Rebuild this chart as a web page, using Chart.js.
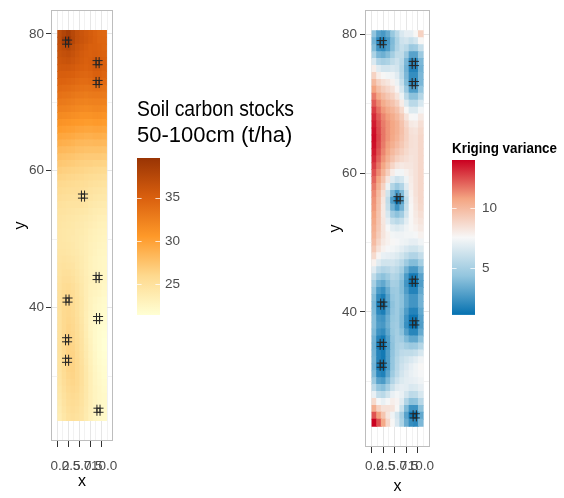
<!DOCTYPE html>
<html>
<head>
<meta charset="utf-8">
<title>Soil carbon stocks - kriging</title>
<script src="https://cdn.jsdelivr.net/npm/chart.js@4.4.1/dist/chart.umd.min.js"></script>
<style>
  body { margin: 0; background: #fff; }
  #page { position: relative; width: 564px; height: 498px; overflow: hidden; }
  #page canvas { position: absolute; }
</style>
</head>
<body>
<div id="page">
  <canvas id="carbonMap" width="130" height="498" style="left:0;top:0;width:130px;height:498px"></canvas>
  <canvas id="carbonKey" width="164" height="250" style="left:130px;top:80px;width:164px;height:250px"></canvas>
  <canvas id="varianceMap" width="130" height="498" style="left:310px;top:0;width:130px;height:498px"></canvas>
  <canvas id="varianceKey" width="117" height="210" style="left:440px;top:120px;width:117px;height:210px"></canvas>
</div>
<script>
// grid cell centres
const xCells = [0, 1, 2, 3, 4, 5, 6, 7, 8, 9, 10];
const yCells = [80, 79, 78, 77, 76, 75, 74, 73, 72, 71, 70, 69, 68, 67, 66, 65, 64, 63, 62, 61,
                60, 59, 58, 57, 56, 55, 54, 53, 52, 51, 50, 49, 48, 47, 46, 45, 44, 43, 42, 41,
                40, 39, 38, 37, 36, 35, 34, 33, 32, 31, 30, 29, 28, 27, 26, 25, 24];

// predicted soil carbon stocks 50-100cm (t/ha), one row per yCells entry
const carbon = [
  [37.0, 37.8, 38.5, 37.5, 36.6, 36.1, 35.7, 35.3, 34.9, 34.5, 34.4],
  [37.0, 38.6, 39.6, 37.6, 36.6, 36.2, 35.8, 35.4, 35.0, 34.6, 34.5],
  [36.6, 37.2, 37.6, 36.9, 36.2, 35.8, 35.4, 35.0, 35.0, 34.8, 34.5],
  [36.3, 36.6, 36.8, 36.4, 35.9, 35.5, 35.2, 35.0, 35.2, 35.0, 34.8],
  [36.0, 36.2, 36.3, 36.0, 35.6, 35.3, 35.0, 35.2, 35.6, 35.5, 35.0],
  [35.6, 35.7, 35.7, 35.5, 35.2, 35.0, 34.8, 35.0, 35.5, 35.4, 35.0],
  [35.2, 35.2, 35.1, 35.0, 34.7, 34.5, 34.4, 34.6, 35.0, 35.0, 34.6],
  [34.7, 34.7, 34.6, 34.4, 34.2, 34.0, 34.0, 34.2, 34.6, 34.6, 34.2],
  [34.2, 34.1, 34.0, 33.8, 33.6, 33.5, 33.4, 33.5, 33.7, 33.7, 33.5],
  [33.6, 33.5, 33.4, 33.2, 33.0, 32.9, 32.8, 32.9, 33.0, 33.0, 32.9],
  [33.0, 32.9, 32.8, 32.6, 32.4, 32.3, 32.2, 32.3, 32.4, 32.4, 32.3],
  [32.4, 32.3, 32.2, 32.0, 31.8, 31.7, 31.6, 31.7, 31.8, 31.8, 31.7],
  [31.7, 31.6, 31.5, 31.3, 31.2, 31.0, 31.0, 31.0, 31.1, 31.1, 31.0],
  [31.0, 30.9, 30.8, 30.6, 30.5, 30.4, 30.3, 30.3, 30.4, 30.4, 30.3],
  [30.3, 30.2, 30.1, 30.0, 29.8, 29.7, 29.6, 29.6, 29.7, 29.7, 29.6],
  [29.6, 29.5, 29.4, 29.3, 29.1, 29.0, 28.9, 28.9, 29.0, 29.0, 28.9],
  [29.0, 28.9, 28.8, 28.6, 28.4, 28.3, 28.2, 28.2, 28.3, 28.3, 28.2],
  [28.3, 28.2, 28.1, 28.0, 27.8, 27.7, 27.6, 27.6, 27.6, 27.6, 27.5],
  [27.7, 27.6, 27.5, 27.4, 27.2, 27.1, 27.0, 27.0, 27.0, 27.0, 26.9],
  [27.2, 27.1, 27.0, 26.9, 26.7, 26.6, 26.5, 26.5, 26.4, 26.4, 26.3],
  [26.7, 26.6, 26.5, 26.4, 26.3, 26.2, 26.1, 26.0, 25.9, 25.8, 25.7],
  [26.3, 26.2, 26.1, 26.0, 25.9, 25.8, 25.6, 25.5, 25.4, 25.3, 25.2],
  [25.9, 25.8, 25.7, 25.6, 25.5, 25.4, 25.3, 25.1, 25.0, 24.9, 24.8],
  [25.6, 25.5, 25.4, 25.3, 25.3, 25.2, 25.0, 24.8, 24.6, 24.5, 24.4],
  [25.3, 25.2, 25.1, 25.0, 25.0, 25.0, 24.8, 24.5, 24.3, 24.2, 24.1],
  [25.0, 24.9, 24.8, 24.8, 24.7, 24.7, 24.5, 24.2, 24.0, 23.9, 23.8],
  [24.8, 24.7, 24.6, 24.5, 24.4, 24.3, 24.2, 23.9, 23.7, 23.6, 23.5],
  [24.6, 24.5, 24.4, 24.3, 24.2, 24.0, 23.9, 23.7, 23.5, 23.3, 23.2],
  [24.5, 24.4, 24.3, 24.2, 24.0, 23.9, 23.7, 23.5, 23.3, 23.1, 23.0],
  [24.4, 24.3, 24.2, 24.1, 23.9, 23.8, 23.6, 23.3, 23.1, 22.9, 22.8],
  [24.4, 24.3, 24.2, 24.0, 23.9, 23.7, 23.5, 23.2, 23.0, 22.8, 22.7],
  [24.4, 24.4, 24.3, 24.1, 23.9, 23.7, 23.4, 23.1, 22.9, 22.7, 22.6],
  [24.5, 24.5, 24.4, 24.2, 24.0, 23.7, 23.4, 23.1, 22.8, 22.6, 22.5],
  [24.6, 24.7, 24.6, 24.4, 24.1, 23.8, 23.4, 23.0, 22.7, 22.5, 22.4],
  [24.7, 24.9, 24.8, 24.6, 24.2, 23.8, 23.4, 23.0, 22.7, 22.5, 22.4],
  [24.8, 25.1, 25.1, 24.8, 24.4, 23.9, 23.4, 23.0, 22.8, 22.6, 22.4],
  [24.9, 25.3, 25.3, 25.0, 24.5, 24.0, 23.5, 23.1, 23.0, 22.8, 22.5],
  [25.0, 25.5, 25.6, 25.2, 24.7, 24.1, 23.5, 23.0, 22.9, 22.7, 22.4],
  [25.1, 25.7, 25.9, 25.5, 24.9, 24.2, 23.5, 22.9, 22.7, 22.5, 22.2],
  [25.1, 25.8, 26.0, 25.6, 25.0, 24.3, 23.5, 22.8, 22.5, 22.2, 22.0],
  [25.1, 25.8, 26.0, 25.6, 25.0, 24.3, 23.5, 22.8, 22.4, 22.1, 21.9],
  [25.0, 25.8, 26.0, 25.7, 25.1, 24.3, 23.4, 22.7, 22.3, 22.0, 21.8],
  [25.0, 25.8, 26.1, 25.8, 25.2, 24.4, 23.4, 22.6, 22.2, 21.9, 21.7],
  [25.0, 25.8, 26.2, 25.9, 25.3, 24.5, 23.5, 22.6, 22.1, 21.8, 21.6],
  [25.0, 25.9, 26.3, 26.0, 25.4, 24.6, 23.6, 22.7, 22.1, 21.7, 21.5],
  [25.0, 25.9, 26.4, 26.1, 25.5, 24.7, 23.7, 22.8, 22.1, 21.7, 21.4],
  [25.0, 25.9, 26.4, 26.2, 25.6, 24.8, 23.8, 22.9, 22.2, 21.7, 21.4],
  [24.9, 25.8, 26.4, 26.3, 25.7, 24.9, 23.9, 23.0, 22.3, 21.8, 21.5],
  [24.8, 25.7, 26.3, 26.3, 25.8, 25.0, 24.0, 23.1, 22.4, 21.9, 21.6],
  [24.7, 25.6, 26.2, 26.3, 25.8, 25.1, 24.1, 23.2, 22.5, 22.0, 21.7],
  [24.6, 25.5, 26.1, 26.2, 25.8, 25.1, 24.2, 23.3, 22.6, 22.1, 21.8],
  [24.5, 25.3, 25.9, 26.1, 25.8, 25.1, 24.2, 23.3, 22.6, 22.2, 21.9],
  [24.3, 25.1, 25.7, 25.9, 25.7, 25.0, 24.2, 23.3, 22.7, 22.3, 22.0],
  [24.1, 24.9, 25.5, 25.7, 25.5, 24.9, 24.1, 23.3, 22.7, 22.3, 22.1],
  [23.9, 24.7, 25.3, 25.5, 25.3, 24.8, 24.0, 23.3, 22.7, 22.3, 22.1],
  [23.7, 24.5, 25.1, 25.3, 25.1, 24.6, 23.9, 23.2, 22.7, 22.3, 22.1],
  [23.5, 24.3, 24.9, 25.1, 24.9, 24.5, 23.8, 23.1, 22.6, 22.3, 22.1]
];

// kriging variance, one row per yCells entry
const variance = [
  [4.3, 3.0, 2.6, 3.3, 4.5, 5.6, 6.6, 7.0, 7.0, 7.6, 9.0],
  [3.6, 2.0, 1.6, 2.6, 3.9, 5.2, 6.2, 6.4, 6.0, 6.4, 7.6],
  [4.0, 2.4, 2.1, 2.8, 4.0, 5.3, 6.0, 5.6, 4.6, 4.8, 6.0],
  [5.2, 3.8, 3.5, 4.0, 4.9, 5.8, 5.8, 4.6, 3.0, 3.0, 4.6],
  [6.6, 5.3, 5.0, 5.2, 5.8, 6.2, 5.6, 3.8, 2.0, 2.0, 3.8],
  [7.9, 6.8, 6.4, 6.4, 6.6, 6.4, 5.4, 3.6, 1.8, 1.8, 3.6],
  [9.0, 8.0, 7.6, 7.4, 7.3, 6.8, 5.6, 3.8, 2.2, 2.2, 3.8],
  [10.0, 9.0, 8.5, 8.2, 7.8, 7.2, 6.0, 4.0, 2.0, 2.0, 3.8],
  [10.8, 9.8, 9.2, 8.8, 8.4, 7.7, 6.5, 4.6, 2.8, 2.8, 4.4],
  [11.6, 10.6, 9.9, 9.4, 9.0, 8.3, 7.2, 5.6, 4.2, 4.2, 5.4],
  [12.2, 11.3, 10.5, 10.0, 9.6, 9.0, 8.0, 6.7, 5.6, 5.6, 6.5],
  [12.8, 11.8, 11.0, 10.5, 10.1, 9.6, 8.7, 7.6, 6.7, 6.7, 7.4],
  [13.2, 12.2, 11.4, 10.9, 10.5, 10.0, 9.3, 8.3, 7.6, 7.5, 8.1],
  [13.5, 12.5, 11.6, 11.1, 10.7, 10.3, 9.6, 8.8, 8.1, 8.0, 8.5],
  [13.7, 12.6, 11.7, 11.1, 10.7, 10.3, 9.7, 9.0, 8.4, 8.3, 8.7],
  [13.8, 12.7, 11.7, 11.1, 10.6, 10.2, 9.6, 9.0, 8.5, 8.4, 8.8],
  [13.7, 12.6, 11.6, 10.9, 10.4, 9.9, 9.4, 8.9, 8.5, 8.4, 8.8],
  [13.5, 12.4, 11.4, 10.7, 10.0, 9.5, 9.1, 8.7, 8.4, 8.4, 8.8],
  [13.2, 12.1, 11.1, 10.3, 9.6, 9.0, 8.7, 8.5, 8.3, 8.4, 8.8],
  [12.8, 11.7, 10.7, 9.8, 8.9, 8.3, 8.1, 8.2, 8.2, 8.4, 8.8],
  [12.4, 11.3, 10.2, 9.1, 8.0, 7.4, 7.4, 7.8, 8.1, 8.4, 8.8],
  [12.0, 10.8, 9.6, 8.2, 6.8, 6.2, 6.5, 7.3, 8.0, 8.4, 8.8],
  [11.6, 10.4, 9.0, 7.2, 5.4, 4.6, 5.3, 6.8, 7.9, 8.4, 8.8],
  [11.3, 10.0, 8.5, 6.3, 3.8, 2.6, 3.9, 6.2, 7.8, 8.4, 8.8],
  [11.1, 9.8, 8.2, 5.8, 2.8, 1.1, 2.9, 5.8, 7.7, 8.3, 8.8],
  [11.0, 9.7, 8.1, 6.0, 3.6, 2.4, 3.6, 6.0, 7.6, 8.2, 8.7],
  [10.8, 9.6, 8.1, 6.5, 4.8, 4.2, 4.8, 6.4, 7.6, 8.1, 8.5],
  [10.6, 9.5, 8.2, 7.0, 6.0, 5.6, 6.0, 6.9, 7.6, 8.0, 8.3],
  [10.4, 9.4, 8.3, 7.5, 6.9, 6.7, 6.9, 7.3, 7.6, 7.8, 8.1],
  [10.2, 9.2, 8.3, 7.8, 7.4, 7.3, 7.3, 7.4, 7.4, 7.5, 7.8],
  [9.9, 8.9, 8.1, 7.8, 7.6, 7.5, 7.3, 7.2, 7.0, 7.0, 7.3],
  [9.4, 8.4, 7.8, 7.5, 7.4, 7.2, 6.9, 6.6, 6.3, 6.3, 6.7],
  [8.7, 7.7, 7.1, 7.0, 6.9, 6.7, 6.3, 5.8, 5.3, 5.3, 5.9],
  [7.8, 6.8, 6.3, 6.3, 6.4, 6.1, 5.6, 4.7, 4.0, 4.0, 4.9],
  [6.8, 5.7, 5.3, 5.5, 5.9, 5.6, 4.9, 3.6, 2.6, 2.6, 3.8],
  [5.8, 4.6, 4.2, 4.7, 5.4, 5.2, 4.3, 2.7, 1.5, 1.5, 3.0],
  [5.0, 3.6, 3.2, 4.0, 5.0, 4.9, 4.0, 2.5, 1.2, 1.2, 2.8],
  [4.4, 2.7, 2.3, 3.4, 4.6, 4.7, 4.0, 2.8, 1.8, 1.8, 3.2],
  [4.0, 2.1, 1.6, 3.0, 4.4, 4.7, 4.2, 3.2, 2.5, 2.5, 3.6],
  [3.8, 1.6, 1.1, 2.7, 4.2, 4.7, 4.2, 3.2, 2.5, 2.5, 3.6],
  [3.9, 2.0, 1.6, 3.0, 4.3, 4.7, 4.0, 2.8, 1.8, 1.8, 3.2],
  [4.1, 2.6, 2.4, 3.4, 4.5, 4.7, 3.9, 2.4, 1.3, 1.3, 2.9],
  [4.1, 2.8, 2.6, 3.5, 4.6, 4.8, 3.9, 2.3, 1.1, 1.1, 2.8],
  [3.9, 2.4, 2.1, 3.2, 4.5, 4.9, 4.2, 2.9, 1.9, 1.9, 3.3],
  [3.6, 1.8, 1.4, 2.8, 4.3, 5.0, 4.8, 3.9, 3.2, 3.2, 4.2],
  [3.5, 1.5, 1.1, 2.6, 4.2, 5.1, 5.3, 4.9, 4.6, 4.7, 5.4],
  [3.6, 1.8, 1.4, 2.8, 4.3, 5.2, 5.7, 5.8, 5.8, 6.0, 6.5],
  [3.7, 1.8, 1.4, 2.8, 4.4, 5.4, 6.0, 6.3, 6.6, 6.9, 7.3],
  [3.6, 1.5, 1.1, 2.7, 4.4, 5.5, 6.2, 6.6, 7.0, 7.3, 7.6],
  [3.9, 2.0, 1.7, 3.1, 4.7, 5.7, 6.4, 6.8, 7.1, 7.3, 7.5],
  [4.6, 3.0, 2.7, 3.9, 5.3, 6.2, 6.7, 6.9, 7.0, 7.1, 7.3],
  [5.7, 4.4, 4.1, 5.0, 6.1, 6.8, 7.0, 6.9, 6.6, 6.7, 7.0],
  [7.1, 5.9, 5.6, 6.3, 7.1, 7.4, 7.1, 6.4, 5.7, 5.8, 6.5],
  [8.7, 7.5, 7.1, 7.5, 7.9, 7.7, 6.8, 5.3, 4.2, 4.3, 5.5],
  [10.4, 9.0, 8.4, 8.4, 8.3, 7.6, 6.1, 3.9, 2.4, 2.4, 4.2],
  [12.4, 10.9, 9.5, 8.2, 7.3, 6.4, 5.0, 3.0, 1.3, 1.1, 3.2],
  [14.0, 12.4, 10.6, 8.8, 7.6, 6.6, 5.2, 3.4, 2.2, 2.0, 3.8]
];

// sampled cores (four per site)
const pointX = [1.25, 1.95, 1.25, 1.95,  8.15, 8.85, 8.15, 8.85,  8.15, 8.85, 8.15, 8.85,
                4.85, 5.55, 4.85, 5.55,  8.15, 8.85, 8.15, 8.85,  1.35, 2.05, 1.35, 2.05,
                8.25, 8.95, 8.25, 8.95,  1.25, 1.95, 1.25, 1.95,  1.25, 1.95, 1.25, 1.95,
                8.35, 9.05, 8.35, 9.05];
const pointY = [79.1, 79.1, 78.5, 78.5,  76.1, 76.1, 75.5, 75.5,  73.2, 73.2, 72.6, 72.6,
                56.6, 56.6, 56.0, 56.0,  44.7, 44.7, 44.1, 44.1,  41.4, 41.4, 40.8, 40.8,
                38.7, 38.7, 38.1, 38.1,  35.6, 35.6, 35.0, 35.0,  32.6, 32.6, 32.0, 32.0,
                25.3, 25.3, 24.7, 24.7];

const xTicks = [0, 2.5, 5, 7.5, 10];
const xGridBreaks = [0, 1.25, 2.5, 3.75, 5, 6.25, 7.5, 8.75, 10];
const yTicks = [40, 60, 80];
const yGridBreaks = [30, 40, 50, 60, 70, 80];
const carbonTicks = [25, 30, 35];
const varianceTicks = [5, 10];

const carbonPalette = ['#FFFFD4', '#FED98E', '#FE9929', '#D95F0E', '#993404'];
const variancePalette = ['#0571B0', '#92C5DE', '#F7F7F7', '#F4A582', '#CA0020'];

const xRange = [-1.05, 11.05];
const yRange = [20.65, 83.35];

const sans = "'Liberation Sans', Arial, sans-serif";

const gridMin = g => Math.min(...g.flat());
const gridMax = g => Math.max(...g.flat());

function hexRgb(h) {
    const n = parseInt(h.slice(1), 16);
    return [n >> 16, (n >> 8) & 255, n & 255];
}

function rampColor(palette, lo, hi, v) {
    const t = Math.min(1, Math.max(0, (v - lo) / (hi - lo))) * (palette.length - 1);
    const i = Math.min(palette.length - 2, Math.floor(t));
    const f = t - i;
    const a = hexRgb(palette[i]), b = hexRgb(palette[i + 1]);
    const c = a.map((ch, k) => Math.round(ch + (b[k] - ch) * f));
    return `rgb(${c[0]},${c[1]},${c[2]})`;
}

function cellsFrom(grid) {
    const cells = [];
    yCells.forEach((y, r) => {
        xCells.forEach((x, c) => cells.push({ x: x, y: [y - 0.5, y + 0.5], v: grid[r][c] }));
    });
    return cells;
}

const panelFrame = {
    id: 'panelFrame',
    afterDatasetsDraw(chart) {
        const { ctx, chartArea: a } = chart;
        ctx.save();
        ctx.strokeStyle = '#bdbdbd';
        ctx.lineWidth = 1;
        ctx.strokeRect(Math.round(a.left) - 0.5, Math.round(a.top) - 0.5,
                       Math.round(a.right) - Math.round(a.left) + 1, Math.round(a.bottom) - Math.round(a.top) + 1);
        ctx.restore();
    }
};

function mapChart(id, grid, palette, lay) {
    const lo = gridMin(grid), hi = gridMax(grid);
    const isMajorX = c => c.tick && xTicks.includes(c.tick.value);
    const isMajorY = c => c.tick && yTicks.includes(c.tick.value);

    return new Chart(document.getElementById(id), {
        type: 'scatter',
        data: {
            datasets: [
                {
                    label: 'cores',
                    data: pointX.map((x, i) => ({ x: x, y: pointY[i] })),
                    pointStyle: 'cross',
                    radius: 3.5,
                    borderColor: '#262626',
                    borderWidth: 1,
                    order: 1
                },
                {
                    type: 'bar',
                    label: 'grid',
                    data: cellsFrom(grid),
                    backgroundColor: c => c.raw ? rampColor(palette, lo, hi, c.raw.v) : '#fff',
                    borderWidth: 0,
                    barPercentage: 1,
                    categoryPercentage: 1,
                    inflateAmount: 0.5,
                    order: 2
                }
            ]
        },
        options: {
            responsive: false,
            animation: false,
            events: [],
            layout: { padding: lay.padding },
            plugins: { legend: { display: false }, tooltip: { enabled: false } },
            scales: {
                x: {
                    min: xRange[0],
                    max: xRange[1],
                    afterBuildTicks: ax => { ax.ticks = xGridBreaks.map(value => ({ value })); },
                    afterFit: ax => { ax.height = lay.xHeight; },
                    ticks: {
                        autoSkip: false, maxRotation: 0, minRotation: 0,
                        padding: lay.xTickPad,
                        color: '#4d4d4d',
                        font: { family: sans, size: 13.5 },
                        callback: v => xTicks.includes(v) ? v.toFixed(1) : ''
                    },
                    grid: {
                        color: c => isMajorX(c) ? '#e6e6e6' : '#f2f2f2',
                        tickColor: c => isMajorX(c) ? '#333333' : 'rgba(0,0,0,0)',
                        tickLength: 7
                    },
                    border: { display: false },
                    title: { display: true, text: 'x', color: '#000', font: { family: sans, size: 16 },
                             padding: { top: 0, bottom: lay.xTitlePad } }
                },
                y: {
                    min: yRange[0],
                    max: yRange[1],
                    afterBuildTicks: ax => { ax.ticks = yGridBreaks.map(value => ({ value })); },
                    afterFit: ax => { ax.width = lay.yWidth; },
                    ticks: {
                        autoSkip: false,
                        padding: lay.yTickPad,
                        color: '#4d4d4d',
                        font: { family: sans, size: 13.5 },
                        callback: v => yTicks.includes(v) ? String(v) : ''
                    },
                    grid: {
                        color: c => isMajorY(c) ? '#e6e6e6' : '#f2f2f2',
                        tickColor: c => isMajorY(c) ? '#333333' : 'rgba(0,0,0,0)',
                        tickLength: 6
                    },
                    border: { display: false },
                    title: { display: true, text: 'y', color: '#000', font: { family: sans, size: 16 },
                             padding: { top: lay.yTitlePad, bottom: 0 } }
                }
            }
        },
        plugins: [panelFrame]
    });
}

function colourBar(palette, lo, hi) {
    return {
        id: 'colourBar',
        beforeDatasetsDraw(chart) {
            const { ctx, chartArea: a, scales: { y } } = chart;
            const top = y.getPixelForValue(hi), bottom = y.getPixelForValue(lo);
            const g = ctx.createLinearGradient(0, bottom, 0, top);
            palette.forEach((c, i) => g.addColorStop(i / (palette.length - 1), c));
            ctx.save();
            ctx.fillStyle = g;
            ctx.fillRect(a.left, top, a.right - a.left, bottom - top);
            ctx.strokeStyle = 'rgba(255,255,255,0.75)';
            ctx.lineWidth = 1;
            const len = (a.right - a.left) / 5;
            y.ticks.forEach(t => {
                const py = Math.round(y.getPixelForValue(t.value)) + 0.5;
                ctx.beginPath();
                ctx.moveTo(a.left, py); ctx.lineTo(a.left + len, py);
                ctx.moveTo(a.right - len, py); ctx.lineTo(a.right, py);
                ctx.stroke();
            });
            ctx.restore();
        }
    };
}

// the title block is as wide as the canvas allows, which squeezes the text to the
// condensed look of the original legend titles
function keyChart(id, grid, palette, ticks, title, lay) {
    const lo = gridMin(grid), hi = gridMax(grid);
    return new Chart(document.getElementById(id), {
        type: 'scatter',
        data: { datasets: [] },
        options: {
            responsive: false,
            animation: false,
            events: [],
            layout: { padding: lay.padding },
            plugins: {
                legend: { display: false },
                tooltip: { enabled: false },
                title: { display: true, text: title, align: 'start', color: '#000',
                         font: lay.titleFont, padding: lay.titlePad }
            },
            scales: {
                x: { display: false, min: 0, max: 1 },
                y: {
                    position: 'right',
                    min: lo,
                    max: hi,
                    afterBuildTicks: ax => { ax.ticks = ticks.map(value => ({ value })); },
                    afterFit: ax => { ax.width = lay.axisWidth; },
                    ticks: { padding: lay.tickPad, color: '#4d4d4d', font: { family: sans, size: 13.5 } },
                    grid: { display: false, drawTicks: false },
                    border: { display: false }
                }
            }
        },
        plugins: [colourBar(palette, lo, hi)]
    });
}

mapChart('carbonMap', carbon, carbonPalette, {
    padding: { top: 11, right: 13, bottom: 0, left: 0 },
    xHeight: 58, xTickPad: 10.9, xTitlePad: 6.8,
    yWidth: 52, yTickPad: 2, yTitlePad: 10.5
});

mapChart('varianceMap', variance, variancePalette, {
    padding: { top: 7, right: 9, bottom: 0, left: 0 },
    xHeight: 52, xTickPad: 4.9, xTitlePad: 1.8,
    yWidth: 56, yTickPad: 3, yTitlePad: 15.5
});

keyChart('carbonKey', carbon, carbonPalette, carbonTicks, ['Soil carbon stocks', '50-100cm (t/ha)'], {
    padding: { top: 0, right: 0, bottom: 15, left: 7 },
    titleFont: { family: sans, size: 22, weight: 'normal', lineHeight: '26px' },
    titlePad: { top: 17, bottom: 9 },
    axisWidth: 134, tickPad: 5
});

keyChart('varianceKey', variance, variancePalette, varianceTicks, 'Kriging variance', {
    padding: { top: 0, right: 0, bottom: 15, left: 12 },
    titleFont: { family: sans, size: 15, weight: 'bold', lineHeight: '16px' },
    titlePad: { top: 20.5, bottom: 3.5 },
    axisWidth: 82, tickPad: 7
});
</script>
</body>
</html>
